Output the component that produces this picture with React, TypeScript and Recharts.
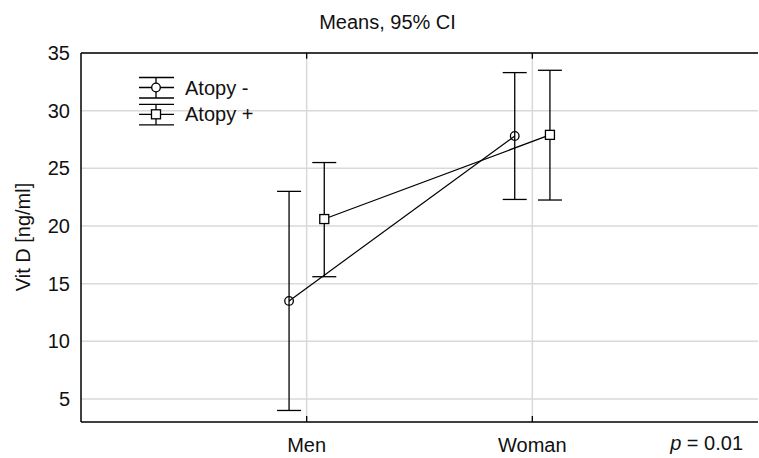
import React from 'react';
import { ComposedChart, Scatter, ErrorBar, XAxis, YAxis, CartesianGrid, ReferenceLine } from 'recharts';

const categories = ['Men', 'Woman'];
const groupPos = [1, 2];
const atopyNegMean = [13.5, 27.8];
const atopyNegLower = [4.0, 22.3];
const atopyNegUpper = [23.0, 33.3];
const atopyPosMean = [20.6, 27.9];
const atopyPosLower = [15.6, 22.25];
const atopyPosUpper = [25.5, 33.5];
const yTicks = [5, 10, 15, 20, 25, 30, 35];
const rightTicks = [7, 11, 15, 19, 23, 27, 31];
const dodge = 0.078;

const makeSeries = (mean: number[], lower: number[], upper: number[], shift: number) =>
  categories.map((_, i) => ({
    x: groupPos[i] + shift,
    y: mean[i],
    err: [mean[i] - lower[i], upper[i] - mean[i]],
  }));

const negData = makeSeries(atopyNegMean, atopyNegLower, atopyNegUpper, -dodge);
const posData = makeSeries(atopyPosMean, atopyPosLower, atopyPosUpper, dodge);

const FONT = '"Liberation Sans", Arial, sans-serif';
const TEXT = '#111';
const W = 759;
const H = 458;

const circleShape = (p: any) => (
  <circle cx={p.cx} cy={p.cy} r={4.3} fill="none" stroke="#000" strokeWidth={1.3} />
);
const squareShape = (p: any) => (
  <rect x={p.cx - 4.5} y={p.cy - 4.5} width={9} height={9} fill="#fff" stroke="#000" strokeWidth={1.3} />
);
const noLabel = () => <g />;

function LegendIcon({ y, square }: { y: number; square?: boolean }) {
  // y = middle line position
  return (
    <g stroke="#000" strokeWidth={1.3} fill="none">
      <line x1={0} x2={35} y1={y - 10} y2={y - 10} />
      <line x1={0} x2={35} y1={y} y2={y} />
      <line x1={0} x2={35} y1={y + 10.5} y2={y + 10.5} />
      <line x1={17} x2={17} y1={y - 10} y2={y + 10.5} />
      {square ? (
        <rect x={12.5} y={y - 4.5} width={9} height={9} fill="#fff" />
      ) : (
        <circle cx={17} cy={y} r={4.3} fill="#fff" />
      )}
    </g>
  );
}

export default function App() {
  return (
    <div style={{ position: 'relative', width: W, height: H, fontFamily: FONT, background: '#fff' }}>
      <style>{'html,body{margin:0;padding:0;overflow:hidden;}'}</style>
      <ComposedChart width={W} height={H} margin={{ top: 53, right: 1, bottom: 0, left: 8 }}>
        <CartesianGrid stroke="#d9d9d9" strokeWidth={1.5} syncWithTicks />
        <XAxis
          dataKey="x"
          type="number"
          domain={[0, 3]}
          ticks={groupPos}
          interval={0}
          allowDataOverflow
          tickFormatter={(v: number) => categories[v - 1] ?? ''}
          height={36}
          tickSize={-6}
          tickMargin={22}
          axisLine={{ stroke: '#000', strokeWidth: 1.5 }}
          tickLine={{ stroke: '#000', strokeWidth: 1.3 }}
          tick={{ fill: TEXT, fontSize: 20, fontFamily: FONT }}
        />
        <YAxis
          dataKey="y"
          type="number"
          domain={[3, 35]}
          ticks={yTicks}
          interval={0}
          allowDataOverflow
          width={73}
          tickSize={0}
          tickMargin={11}
          tickLine={false}
          axisLine={{ stroke: '#000', strokeWidth: 1.5 }}
          tick={{ fill: TEXT, fontSize: 20, fontFamily: FONT }}
        />
        <YAxis
          yAxisId="right"
          orientation="right"
          mirror
          type="number"
          domain={[3, 35]}
          ticks={rightTicks}
          interval={0}
          width={10}
          tickSize={-4}
          tick={noLabel}
          axisLine={false}
          tickLine={{ stroke: '#000', strokeWidth: 1.3 }}
        />
        <ReferenceLine y={35} stroke="#000" strokeWidth={1.5} />
        {groupPos.map((g) => (
          <ReferenceLine
            key={g}
            segment={[{ x: g, y: 35 }, { x: g, y: 34.5 }]}
            stroke="#000"
            strokeWidth={1.3}
          />
        ))}
        <Scatter
          name="Atopy -"
          data={negData}
          shape={circleShape}
          line={{ stroke: '#000', strokeWidth: 1.2 }}
          isAnimationActive={false}
        >
          <ErrorBar dataKey="err" direction="y" width={12} stroke="#000" strokeWidth={1.3} isAnimationActive={false} />
        </Scatter>
        <Scatter
          name="Atopy +"
          data={posData}
          shape={squareShape}
          line={{ stroke: '#000', strokeWidth: 1.2 }}
          isAnimationActive={false}
        >
          <ErrorBar dataKey="err" direction="y" width={12} stroke="#000" strokeWidth={1.3} isAnimationActive={false} />
        </Scatter>
      </ComposedChart>

      <svg
        width={W}
        height={H}
        style={{ position: 'absolute', left: 0, top: 0, pointerEvents: 'none', fontFamily: FONT }}
      >
        <text x={387.5} y={29} textAnchor="middle" fontSize={20} fill={TEXT}>
          Means, 95% CI
        </text>
        <text transform="translate(30,237) rotate(-90)" textAnchor="middle" fontSize={20} fill={TEXT}>
          Vit D [ng/ml]
        </text>
        <text x={743} y={450} textAnchor="end" fontSize={20} fill={TEXT}>
          <tspan fontStyle="italic">p</tspan> = 0.01
        </text>
        <g transform="translate(139,74)">
          <LegendIcon y={13.5} />
          <text x={46} y={20.5} fontSize={20} fill={TEXT}>Atopy -</text>
          <LegendIcon y={40.3} square />
          <text x={46} y={47.3} fontSize={20} fill={TEXT}>Atopy +</text>
        </g>
      </svg>
    </div>
  );
}
